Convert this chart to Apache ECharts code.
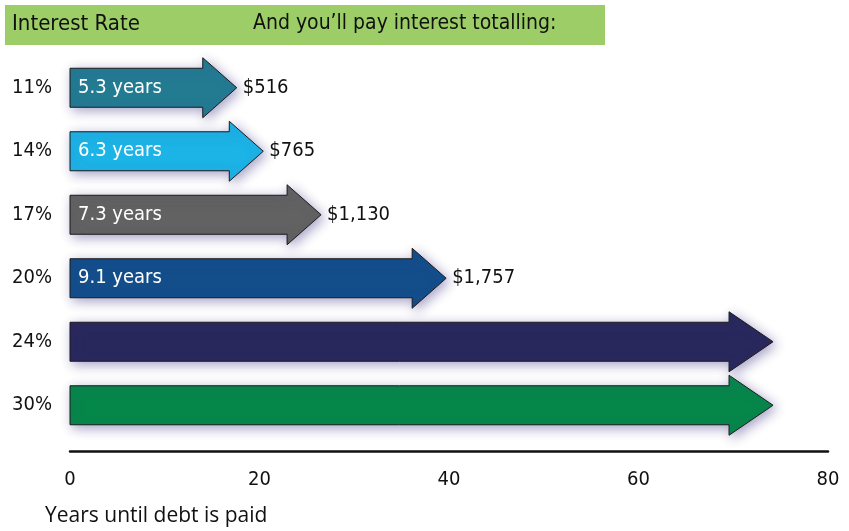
<!DOCTYPE html>
<html>
<head>
<meta charset="utf-8">
<script src="https://cdn.jsdelivr.net/npm/echarts@6/dist/echarts.min.js"></script>
<style>
  html, body { margin: 0; padding: 0; background: #fff; }
  #chart { width: 849px; height: 531px; }
</style>
</head>
<body>
<div id="chart"></div>
<script>
// rows, top to bottom
var rates = ['11%', '14%', '17%', '20%', '24%', '30%'];
var yearLabels = ['5.3 years', '6.3 years', '7.3 years', '9.1 years', '', ''];
var totals = ['$516', '$765', '$1,130', '$1,757', '', ''];
var arrowStart = [0, 0, 0, 0, 0, 0];
var arrowEnd = [17.6, 20.4, 26.5, 39.7, 74.2, 74.2];
var xTicks = [0, 20, 40, 60, 80];

var colors = ['#237b92', '#1cb3e6', '#626262', '#134e8b', '#29285d', '#06874a'];
var narrow = "'Liberation Sans Narrow', 'DejaVu Sans Condensed', sans-serif";

var arrowData = rates.map(function (r, i) {
  return [arrowStart[i], arrowEnd[i], i];
});

function renderArrow(params, api) {
  var i = api.value(2);
  var p0 = api.coord([api.value(0), i]);
  var p1 = api.coord([api.value(1), i]);
  var cy = p0[1];
  var bh = 19.5;   // half body height
  var hh = 30;     // half head height
  var hl = i >= 4 ? 44 : 34; // head length
  var x0 = p0[0], tip = p1[0], base = tip - hl;
  var kids = [{
    type: 'polygon',
    shape: { points: [
      [x0, cy - bh], [base, cy - bh], [base, cy - hh], [tip, cy],
      [base, cy + hh], [base, cy + bh], [x0, cy + bh]
    ] },
    style: {
      fill: colors[i], stroke: '#1b1b1b', lineWidth: 1,
      shadowBlur: 12, shadowColor: 'rgba(60,50,130,0.45)',
      shadowOffsetX: 3, shadowOffsetY: 3
    }
  }];
  if (yearLabels[i]) {
    kids.push({
      type: 'text',
      style: {
        x: x0 + 8, y: cy, text: yearLabels[i],
        fill: '#fff', font: '20px ' + narrow,
        textVerticalAlign: 'middle', verticalAlign: 'middle'
      }
    });
  }
  if (totals[i]) {
    kids.push({
      type: 'text',
      style: {
        x: tip + 6, y: cy, text: totals[i],
        fill: '#111', font: '20px ' + narrow,
        textVerticalAlign: 'middle', verticalAlign: 'middle'
      }
    });
  }
  return { type: 'group', children: kids };
}

var chart = echarts.init(document.getElementById('chart'));
chart.setOption({
  animation: false,
  backgroundColor: '#fff',
  grid: { left: 70, right: 21, top: 56, height: 381 },
  xAxis: {
    type: 'value', min: 0, max: 80, interval: 20, offset: 14,
    axisLine: { show: true, lineStyle: { color: '#111', width: 2.5 } },
    axisTick: { show: false },
    splitLine: { show: false },
    axisLabel: {
      margin: 19, color: '#111', fontSize: 20, fontFamily: narrow,
      formatter: function (v) { return xTicks.indexOf(v) >= 0 ? String(v) : ''; }
    }
  },
  yAxis: {
    type: 'category', data: rates, inverse: true,
    axisLine: { show: false }, axisTick: { show: false },
    axisLabel: { align: 'left', margin: 58, color: '#111', fontSize: 20, fontFamily: narrow }
  },
  series: [{
    type: 'custom',
    renderItem: renderArrow,
    data: arrowData,
    encode: { x: [0, 1], y: 2 },
    clip: false
  }],
  graphic: [
    { type: 'rect', left: 5, top: 5, shape: { width: 600, height: 40 },
      style: { fill: '#9ccd66' }, z: 0 },
    { type: 'text', left: 12, top: 13,
      style: { text: 'Interest Rate', fill: '#111', font: '22px ' + narrow }, z: 1 },
    { type: 'text', left: 253, top: 13,
      style: { text: 'And you\u2019ll pay interest totalling:', fill: '#111', font: '21px ' + narrow }, z: 1 },
    { type: 'text', left: 45, top: 506,
      style: { text: 'Years until debt is paid', fill: '#111', font: '21px "Open Sans", sans-serif' } }
  ]
});
</script>
</body>
</html>
